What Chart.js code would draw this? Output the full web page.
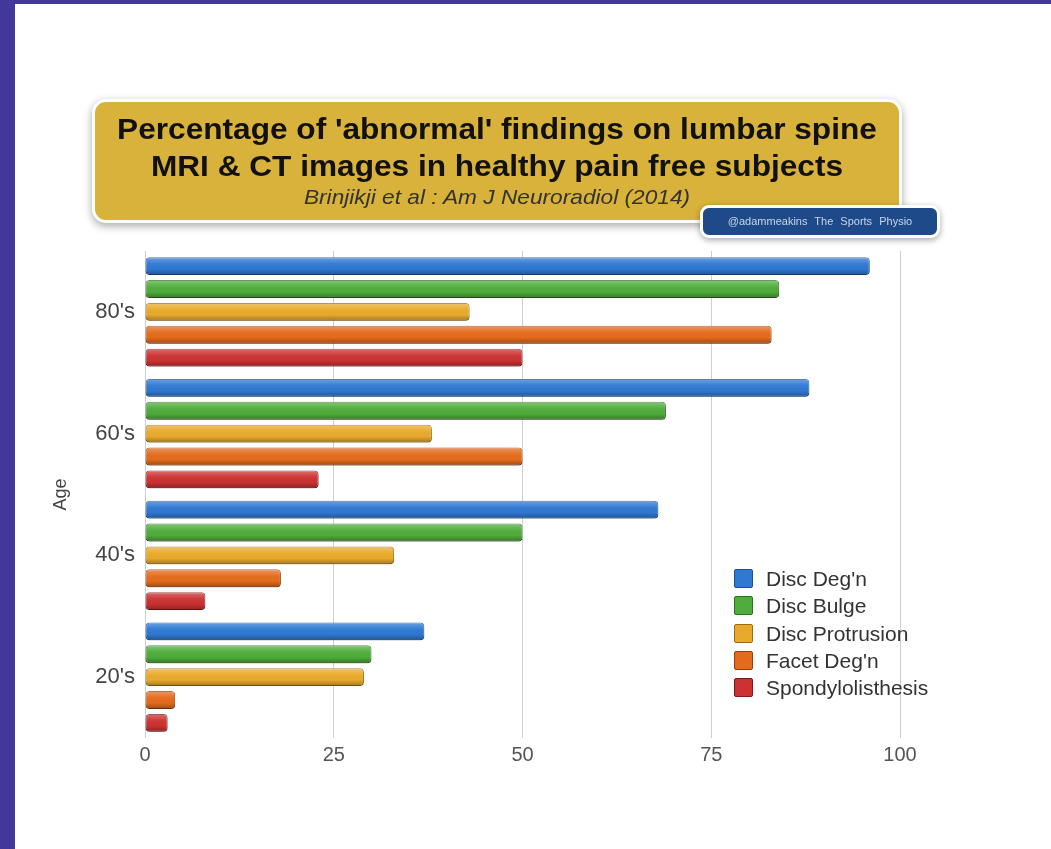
<!DOCTYPE html>
<html lang="en">
<head>
<meta charset="UTF-8">
<title>Abnormal findings on lumbar spine imaging</title>
<script src="https://cdn.jsdelivr.net/npm/chart.js"></script>
<style>
    html, body {
        margin: 0;
        padding: 0;
        background: #ffffff;
        font-family: "Liberation Sans", Arial, sans-serif;
    }
    #page {
        position: relative;
        width: 1051px;
        height: 849px;
        overflow: hidden;
        background: #fff;
    }
    #frameLeft {
        position: absolute; left: 0; top: 0; width: 15px; height: 849px;
        background: #41389a;
    }
    #frameTop {
        position: absolute; left: 0; top: 0; width: 1051px; height: 4px;
        background: #41389a;
    }
    canvas { position: absolute; left: 0; top: 0; }
    #titleBox {
        position: absolute;
        left: 92px; top: 99px;
        width: 804px; height: 118px;
        background: #d8b23a;
        border: 3px solid #fff;
        border-radius: 14px;
        box-shadow: 0 3px 9px rgba(0,0,0,0.35);
        text-align: center;
        color: #111;
    }
    #titleBox h1 {
        margin: 9px 0 0 0;
        font-size: 29px;
        line-height: 37px;
        font-weight: bold;
        transform: scaleX(1.09);
    }
    #titleBox .src {
        margin-top: 0px;
        font-size: 21px;
        font-style: italic;
        color: #333;
        transform: scaleX(1.08);
    }
    #badge {
        position: absolute;
        left: 700px; top: 205px;
        width: 234px; height: 27px;
        background: #1f4a8a;
        border: 3px solid #fff;
        border-radius: 9px;
        box-shadow: 0 2px 6px rgba(0,0,0,0.35);
        color: #c8d4ea;
        font-size: 11px;
        line-height: 27px;
        text-align: center;
        word-spacing: 4px;
    }
    #legend {
        position: absolute;
        left: 734px; top: 565px;
        font-size: 21px;
        color: #333;
    }
    #legend div { height: 27.3px; line-height: 27px; white-space: nowrap; }
    #legend span.box {
        display: inline-block;
        width: 17px; height: 17px;
        margin-right: 13px;
        vertical-align: -2px;
        border-radius: 2px;
    }
</style>
</head>
<body>
<div id="page">
    <canvas id="spineChart" width="1051" height="849"></canvas>
    <div id="frameLeft"></div>
    <div id="frameTop"></div>
    <div id="titleBox">
        <h1>Percentage of 'abnormal' findings on lumbar spine<br>MRI &amp; CT images in healthy pain free subjects</h1>
        <div class="src">Brinjikji et al : Am J Neuroradiol (2014)</div>
    </div>
    <div id="badge">@adammeakins The Sports Physio</div>
    <div id="legend"></div>
</div>

<script>
    // Age groups (top to bottom)
    const ageGroups = ["80's", "60's", "40's", "20's"];

    // Findings, % of subjects per age group
    const discDegen      = [96, 88, 68, 37];
    const discBulge      = [84, 69, 50, 30];
    const discProtrusion = [43, 38, 33, 29];
    const facetDegen     = [83, 50, 18, 4];
    const spondylo       = [50, 23, 8, 3];

    const xTicks = [0, 25, 50, 75, 100];

    const series = [
        { name: "Disc Deg'n",         values: discDegen,      color: '#2f79d3', edge: '#1b4f95' },
        { name: 'Disc Bulge',         values: discBulge,      color: '#4fad3b', edge: '#2f6f22' },
        { name: 'Disc Protrusion',    values: discProtrusion, color: '#e9aa2b', edge: '#9c6b12' },
        { name: "Facet Deg'n",        values: facetDegen,     color: '#e46b1b', edge: '#93400b' },
        { name: 'Spondylolisthesis',  values: spondylo,       color: '#cc3232', edge: '#7f1a1a' }
    ];

    // shading so the bars look a bit round like the original
    const shadeBars = {
        id: 'shadeBars',
        afterDatasetsDraw(chart) {
            const c = chart.ctx;
            chart.data.datasets.forEach((ds, i) => {
                chart.getDatasetMeta(i).data.forEach(bar => {
                    const top = bar.y - bar.height / 2;
                    const left = Math.min(bar.x, bar.base);
                    const w = Math.abs(bar.x - bar.base);
                    const g = c.createLinearGradient(0, top, 0, top + bar.height);
                    g.addColorStop(0, 'rgba(255,255,255,0.30)');
                    g.addColorStop(0.35, 'rgba(255,255,255,0.05)');
                    g.addColorStop(0.65, 'rgba(0,0,0,0)');
                    g.addColorStop(1, 'rgba(0,0,0,0.30)');
                    c.save();
                    c.fillStyle = g;
                    c.beginPath();
                    c.roundRect(left, top, w, bar.height, 4);
                    c.fill();
                    c.restore();
                });
            });
        }
    };

    const ctx = document.getElementById('spineChart').getContext('2d');
    const chart = new Chart(ctx, {
        type: 'bar',
        data: {
            labels: ageGroups,
            datasets: series.map(s => ({
                label: s.name,
                data: s.values,
                backgroundColor: s.color,
                borderColor: s.edge,
                borderWidth: 1,
                borderSkipped: false,
                borderRadius: 4,
                categoryPercentage: 0.94,
                barPercentage: 0.78
            }))
        },
        options: {
            indexAxis: 'y',
            responsive: false,
            animation: false,
            layout: { padding: { left: 46, top: 251, right: 151, bottom: 0 } },
            plugins: {
                legend: { display: false },
                tooltip: { enabled: false }
            },
            scales: {
                x: {
                    min: 0,
                    max: 100,
                    afterBuildTicks: axis => { axis.ticks = xTicks.map(v => ({ value: v })); },
                    afterFit: axis => { axis.height = 111; },
                    grid: { color: '#cfcfcf', lineWidth: 1, drawTicks: false },
                    border: { display: false },
                    ticks: {
                        padding: 5,
                        color: '#555',
                        font: { family: 'Liberation Sans', size: 20 }
                    }
                },
                y: {
                    afterFit: axis => { axis.width = 99; },
                    grid: { display: false, drawTicks: false },
                    border: { display: false },
                    ticks: {
                        padding: 10,
                        color: '#444',
                        font: { family: 'Liberation Sans', size: 22 }
                    },
                    title: {
                        display: true,
                        text: 'Age',
                        color: '#444',
                        padding: { top: 4, bottom: 0 },
                        font: { family: 'Liberation Sans', size: 18 }
                    }
                }
            }
        },
        plugins: [shadeBars]
    });

    // legend sits inside the plot, bottom right
    const legendEl = document.getElementById('legend');
    chart.data.datasets.forEach(ds => {
        const row = document.createElement('div');
        const box = document.createElement('span');
        box.className = 'box';
        box.style.background = ds.backgroundColor;
        box.style.border = '1px solid ' + ds.borderColor;
        row.appendChild(box);
        row.appendChild(document.createTextNode(ds.label));
        legendEl.appendChild(row);
    });
</script>
</body>
</html>
